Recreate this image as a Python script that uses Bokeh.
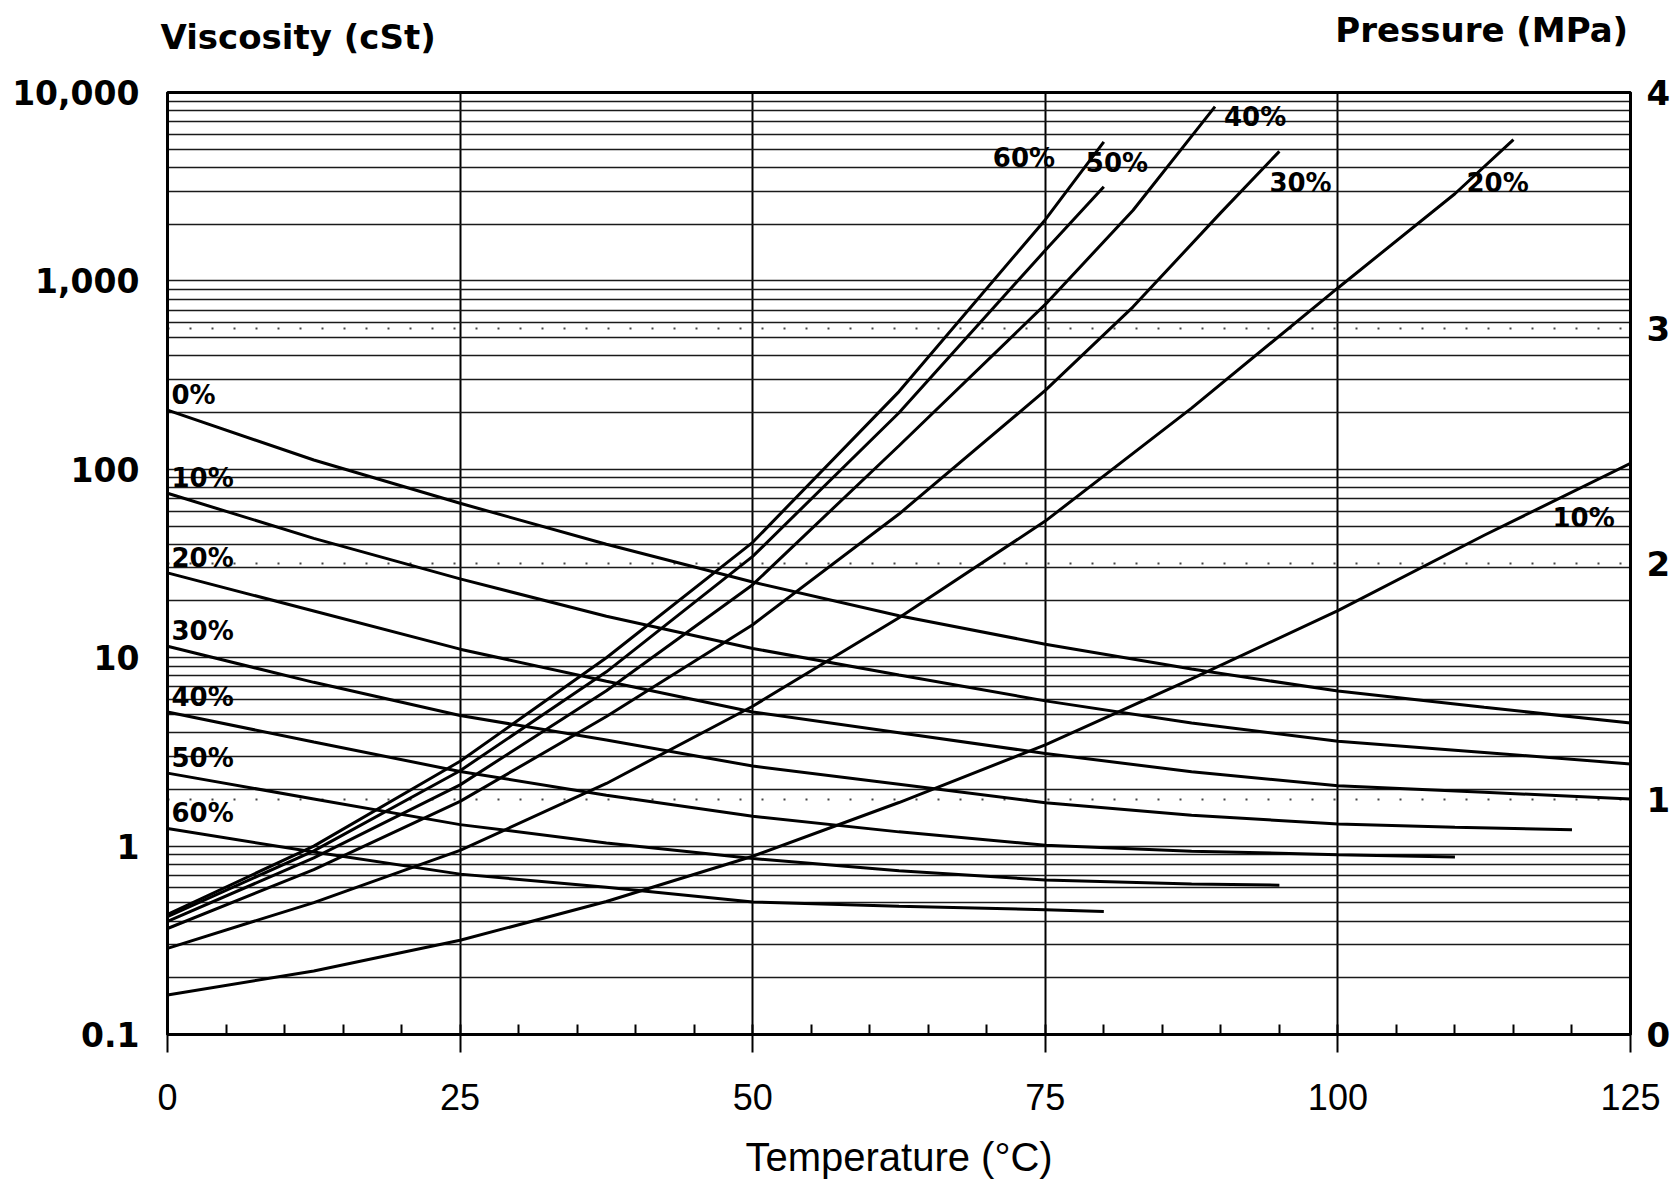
from bokeh.plotting import figure
from bokeh.models import (Range1d, LinearAxis, LinearScale, FixedTicker, SingleIntervalTicker,
                          NumeralTickFormatter, Grid, Label)
from bokeh.embed import file_html
from bokeh.resources import INLINE
from bokeh.core.properties import value

# ---------------- data ----------------
TEMP_FULL = [0, 12.5, 25, 37.5, 50, 62.5, 75, 87.5, 100, 112.5, 125]

# Viscosity (cSt), left log axis
visc_0pct_t = TEMP_FULL
visc_0pct = [206, 112, 66, 40, 25.2, 16.7, 11.8, 8.7, 6.65, 5.45, 4.5]
visc_10pct_t = TEMP_FULL
visc_10pct = [74.6, 43, 26.2, 16.6, 11.2, 8.1, 5.9, 4.5, 3.6, 3.14, 2.73]
visc_20pct_t = TEMP_FULL
visc_20pct = [28.2, 17.7, 11.1, 7.5, 5.15, 4.0, 3.1, 2.48, 2.09, 1.93, 1.78]
visc_30pct_t = [0, 12.5, 25, 37.5, 50, 62.5, 75, 87.5, 100, 110, 120]
visc_30pct = [11.5, 7.4, 4.93, 3.66, 2.66, 2.13, 1.70, 1.46, 1.31, 1.26, 1.22]
visc_40pct_t = [0, 12.5, 25, 37.5, 50, 62.5, 75, 87.5, 100, 110]
visc_40pct = [5.15, 3.57, 2.49, 1.86, 1.44, 1.19, 1.01, 0.94, 0.90, 0.875]
visc_50pct_t = [0, 12.5, 25, 37.5, 50, 62.5, 75, 87.5, 95]
visc_50pct = [2.44, 1.78, 1.30, 1.04, 0.86, 0.74, 0.66, 0.63, 0.62]
visc_60pct_t = [0, 12.5, 25, 37.5, 50, 62.5, 75, 80]
visc_60pct = [1.24, 0.93, 0.71, 0.605, 0.505, 0.48, 0.46, 0.45]
visc_labels = ["0%", "10%", "20%", "30%", "40%", "50%", "60%"]

# Pressure (MPa), right linear axis
press_10pct_t = TEMP_FULL
press_10pct = [0.168, 0.27, 0.40, 0.565, 0.757, 0.985, 1.23, 1.51, 1.80, 2.12, 2.425]
press_20pct_t = [0, 12.5, 25, 37.5, 50, 62.5, 75, 87.5, 100, 110, 115]
press_20pct = [0.366, 0.56, 0.782, 1.066, 1.394, 1.77, 2.18, 2.66, 3.17, 3.57, 3.80]
press_30pct_t = [0, 12.5, 25, 37.5, 50, 62.5, 75, 82.5, 90, 95]
press_30pct = [0.45, 0.70, 0.99, 1.35, 1.74, 2.21, 2.735, 3.09, 3.49, 3.75]
press_40pct_t = [0, 12.5, 25, 37.5, 50, 62.5, 75, 82.5, 89.5]
press_40pct = [0.48, 0.75, 1.06, 1.46, 1.91, 2.50, 3.10, 3.50, 3.94]
press_50pct_t = [0, 12.5, 25, 37.5, 50, 62.5, 75, 80]
press_50pct = [0.50, 0.78, 1.12, 1.54, 2.03, 2.64, 3.33, 3.60]
press_60pct_t = [0, 12.5, 25, 37.5, 50, 62.5, 75, 80]
press_60pct = [0.51, 0.80, 1.16, 1.60, 2.09, 2.73, 3.46, 3.79]
press_labels = ["10%", "20%", "30%", "40%", "50%", "60%"]

visc_ticks = [0.1, 1, 10, 100, 1000, 10000]
press_ticks = [0, 1, 2, 3, 4]
press_dotted = [1, 2, 3]
temp_tick_step = 25

left_title = "Viscosity (cSt)"
right_title = "Pressure (MPa)"
x_title = "Temperature (°C)"

# ---------------- layout / style ----------------
W, H = 1673, 1181
BOLD = "DejaVu Sans"
REG = "Liberation Sans"

visc_series = [(visc_0pct_t, visc_0pct), (visc_10pct_t, visc_10pct), (visc_20pct_t, visc_20pct),
               (visc_30pct_t, visc_30pct), (visc_40pct_t, visc_40pct), (visc_50pct_t, visc_50pct),
               (visc_60pct_t, visc_60pct)]
press_series = [(press_10pct_t, press_10pct), (press_20pct_t, press_20pct), (press_30pct_t, press_30pct),
                (press_40pct_t, press_40pct), (press_50pct_t, press_50pct), (press_60pct_t, press_60pct)]
# label offsets (px) relative to the end of each pressure curve
press_label_dx = [-78, -47, -10, 9, -18, -111]
press_label_dy = [55, 43, 32, 10, -24, 16]

p = figure(width=W, height=H, x_range=Range1d(0, 125), y_range=Range1d(0.1, 10000),
           y_axis_type="log", output_backend="svg", toolbar_location=None,
           min_border_left=167, min_border_right=42, min_border_top=92, min_border_bottom=146)
p.background_fill_color = "white"
p.border_fill_color = "white"
p.outline_line_color = "black"
p.outline_line_width = 3

p.extra_y_ranges = {"p": Range1d(0, 4)}
p.extra_y_scales = {"p": LinearScale()}

minor = [m * 10 ** e for e in range(-1, 4) for m in range(2, 10)]
vt = FixedTicker(ticks=visc_ticks, minor_ticks=minor)

ya = p.yaxis[0]
ya.ticker = vt
ya.formatter = NumeralTickFormatter(format="0,0.[0]")
ya.major_tick_line_color = None
ya.minor_tick_line_color = None
ya.major_tick_out = 0
ya.major_tick_in = 0
ya.minor_tick_out = 0
ya.minor_tick_in = 0
ya.axis_line_width = 3
ya.major_label_standoff = 28
ya.major_label_text_font = BOLD
ya.major_label_text_font_style = "bold"
ya.major_label_text_font_size = "33px"
ya.major_label_text_color = "black"

xa = p.xaxis[0]
xa.ticker = SingleIntervalTicker(interval=temp_tick_step, num_minor_ticks=5)
xa.major_tick_out = 18
xa.major_tick_in = 0
xa.minor_tick_in = 10
xa.minor_tick_out = 0
xa.major_tick_line_width = 2
xa.minor_tick_line_width = 2
xa.axis_line_width = 3
xa.major_label_standoff = 31
xa.major_label_text_font = REG
xa.major_label_text_font_size = "36px"
xa.major_label_text_color = "black"
xa.axis_label = x_title
xa.axis_label_text_font = REG
xa.axis_label_text_font_style = "normal"
xa.axis_label_text_font_size = "40px"
xa.axis_label_standoff = 22
xa.axis_label_text_color = "black"

ra = LinearAxis(y_range_name="p", ticker=FixedTicker(ticks=press_ticks))
ra.major_tick_line_color = None
ra.minor_tick_line_color = None
ra.major_tick_out = 0
ra.major_tick_in = 0
ra.minor_tick_out = 0
ra.minor_tick_in = 0
ra.axis_line_width = 3
ra.major_label_standoff = 16
ra.major_label_text_font = BOLD
ra.major_label_text_font_style = "bold"
ra.major_label_text_font_size = "34px"
ra.major_label_text_color = "black"
p.add_layout(ra, "right")

p.xgrid.ticker = SingleIntervalTicker(interval=temp_tick_step)
p.xgrid.grid_line_color = "black"
p.xgrid.grid_line_width = 2
p.ygrid.ticker = vt
p.ygrid.grid_line_color = "#1a1a1a"
p.ygrid.grid_line_width = 1.5
p.ygrid.minor_grid_line_color = "#1a1a1a"
p.ygrid.minor_grid_line_width = 1.5

pgrid = Grid(dimension=1, ticker=FixedTicker(ticks=press_dotted), y_range_name="p",
             grid_line_color="#444444", grid_line_width=2, grid_line_dash="2 20")
p.add_layout(pgrid)

for t, v in visc_series:
    p.line(t, v, line_color="black", line_width=3)
for t, v in press_series:
    p.line(t, v, line_color="black", line_width=3, y_range_name="p")

p.text(x=[s[0][0] for s in visc_series], y=[s[1][0] for s in visc_series], text=visc_labels,
       x_offset=4, y_offset=-15, text_font=value(BOLD), text_font_style="bold",
       text_font_size="26px", text_baseline="middle", text_align="left", text_color="black")
p.text(x=[s[0][-1] for s in press_series], y=[s[1][-1] for s in press_series], text=press_labels,
       x_offset=press_label_dx, y_offset=press_label_dy, y_range_name="p",
       text_font=value(BOLD), text_font_style="bold", text_font_size="26px",
       text_baseline="middle", text_align="left", text_color="black")

# axis titles above the frame (side-panel annotations are not clipped to the frame)
p.add_layout(Label(x=-0.6, y=19600, text=left_title, text_font=BOLD, text_font_style="bold",
                   text_font_size="34px", text_align="left", text_baseline="alphabetic",
                   text_color="black"), "above")
p.add_layout(Label(x=124.8, y=4.267, y_range_name="p", text=right_title, text_font=BOLD,
                   text_font_style="bold", text_font_size="34px", text_align="right",
                   text_baseline="alphabetic", text_color="black"), "above")

open("out.html", "w").write(file_html(p, INLINE))
